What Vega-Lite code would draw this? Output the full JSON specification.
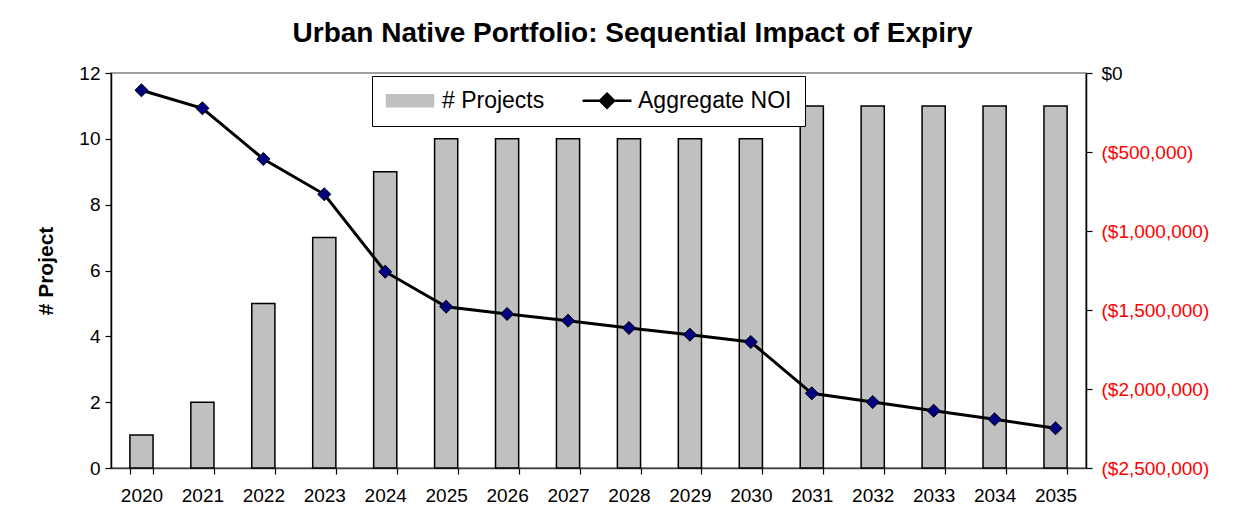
{
  "$schema": "https://vega.github.io/schema/vega-lite/v6.json",
  "autosize": "none",
  "width": 975,
  "height": 395,
  "padding": {"left": 111, "top": 73, "right": 164, "bottom": 63},
  "background": "white",
  "title": {
    "text": "Urban Native Portfolio: Sequential Impact of Expiry",
    "font": "Liberation Sans",
    "fontSize": 28,
    "fontWeight": "bold",
    "color": "black",
    "anchor": "middle",
    "dx": 34,
    "offset": 16
  },
  "config": {
    "font": "Liberation Sans",
    "view": {"stroke": "#808080", "strokeWidth": 1.5},
    "axis": {"grid": false, "labelColor": "black", "labelFont": "Liberation Sans", "titleFont": "Liberation Sans", "domainColor": "black", "tickColor": "black", "domainWidth": 1.5, "tickWidth": 1.2},
    "legend": {
      "orient": "none",
      "direction": "horizontal",
      "legendX": 261,
      "legendY": 3,
      "strokeColor": "black",
      "fillColor": "white",
      "padding": 13,
      "symbolSize": 400,
      "labelFontSize": 23,
      "labelFont": "Liberation Sans",
      "labelColor": "black",
      "labelOffset": 34,
      "columnPadding": 32
    }
  },
  "data": {
    "values": [
      {"year": "2020", "projects": 1, "noi": -109500},
      {"year": "2021", "projects": 2, "noi": -223400},
      {"year": "2022", "projects": 5, "noi": -544300},
      {"year": "2023", "projects": 7, "noi": -767700},
      {"year": "2024", "projects": 9, "noi": -1257600},
      {"year": "2025", "projects": 10, "noi": -1479000},
      {"year": "2026", "projects": 10, "noi": -1525300},
      {"year": "2027", "projects": 10, "noi": -1567700},
      {"year": "2028", "projects": 10, "noi": -1613900},
      {"year": "2029", "projects": 10, "noi": -1656300},
      {"year": "2030", "projects": 10, "noi": -1702500},
      {"year": "2031", "projects": 11, "noi": -2027200},
      {"year": "2032", "projects": 11, "noi": -2082300},
      {"year": "2033", "projects": 11, "noi": -2137300},
      {"year": "2034", "projects": 11, "noi": -2191800},
      {"year": "2035", "projects": 11, "noi": -2248700}
    ]
  },
  "encoding": {
    "x": {
      "field": "year",
      "type": "ordinal",
      "scale": {"paddingInner": 0.62, "paddingOuter": 0.31},
      "axis": {
        "title": null,
        "labelAngle": 0,
        "labelFontSize": 19,
        "labelPadding": 12,
        "tickSize": 6,
        "tickBand": "extent",
        "domainColor": "#404040"
      }
    }
  },
  "layer": [
    {
      "mark": {"type": "bar", "stroke": "black", "strokeWidth": 1.5},
      "encoding": {
        "y": {
          "field": "projects",
          "type": "quantitative",
          "scale": {"domain": [0, 12], "nice": false},
          "axis": {
            "orient": "left",
            "values": [0, 2, 4, 6, 8, 10, 12],
            "title": "# Project",
            "titleFontSize": 21,
            "titleFontWeight": "bold",
            "titleColor": "black",
            "titlePadding": 22,
            "labelFontSize": 19,
            "labelPadding": 5,
            "tickSize": 6
          }
        },
        "color": {
          "datum": "# Projects",
          "scale": {"domain": ["# Projects", "Aggregate NOI"], "range": ["#C0C0C0", "#000000"]},
          "legend": {
            "title": null,
            "encode": {
              "symbols": {
                "update": {
                  "shape": {"signal": "datum.value === '# Projects' ? 'M-1,-0.6H3.7V0.6H-1Z' : 'M-1,0H3.9M1.45,-0.7L2.15,0L1.45,0.7L0.75,0Z'"},
                  "fill": {"signal": "datum.value === '# Projects' ? '#C0C0C0' : '#000080'"},
                  "stroke": {"value": "black"},
                  "strokeWidth": {"signal": "datum.value === '# Projects' ? 1.5 : 2.5"},
                  "opacity": {"value": 1},
                  "fillOpacity": {"value": 1}
                }
              }
            }
          }
        }
      }
    },
    {
      "mark": {"type": "line", "strokeWidth": 3},
      "encoding": {
        "y": {
          "field": "noi",
          "type": "quantitative",
          "scale": {"domain": [-2500000, 0], "nice": false},
          "axis": {
            "orient": "right",
            "title": null,
            "values": [-2500000, -2000000, -1500000, -1000000, -500000, 0],
            "labelExpr": "datum.value == 0 ? '$0' : '($' + format(-datum.value, ',') + ')'",
            "labelColor": {"condition": {"test": "datum.value < 0", "value": "#FF0000"}, "value": "black"},
            "labelFontSize": 19,
            "labelPadding": 9,
            "tickSize": 6
          }
        },
        "color": {
          "datum": "Aggregate NOI",
          "legend": {
            "title": null,
            "encode": {
              "symbols": {
                "update": {
                  "shape": {"signal": "datum.value === '# Projects' ? 'M-1,-0.6H3.7V0.6H-1Z' : 'M-1,0H3.9M1.45,-0.7L2.15,0L1.45,0.7L0.75,0Z'"},
                  "fill": {"signal": "datum.value === '# Projects' ? '#C0C0C0' : '#000080'"},
                  "stroke": {"value": "black"},
                  "strokeWidth": {"signal": "datum.value === '# Projects' ? 1.5 : 2.5"},
                  "opacity": {"value": 1},
                  "fillOpacity": {"value": 1}
                }
              }
            }
          }
        }
      }
    },
    {
      "mark": {"type": "point", "shape": "diamond", "filled": true, "fill": "#000080", "stroke": "black", "strokeWidth": 1, "size": 170, "opacity": 1},
      "encoding": {
        "y": {"field": "noi", "type": "quantitative", "scale": {"domain": [-2500000, 0], "nice": false}, "axis": null}
      }
    }
  ],
  "resolve": {"scale": {"y": "independent"}}
}
